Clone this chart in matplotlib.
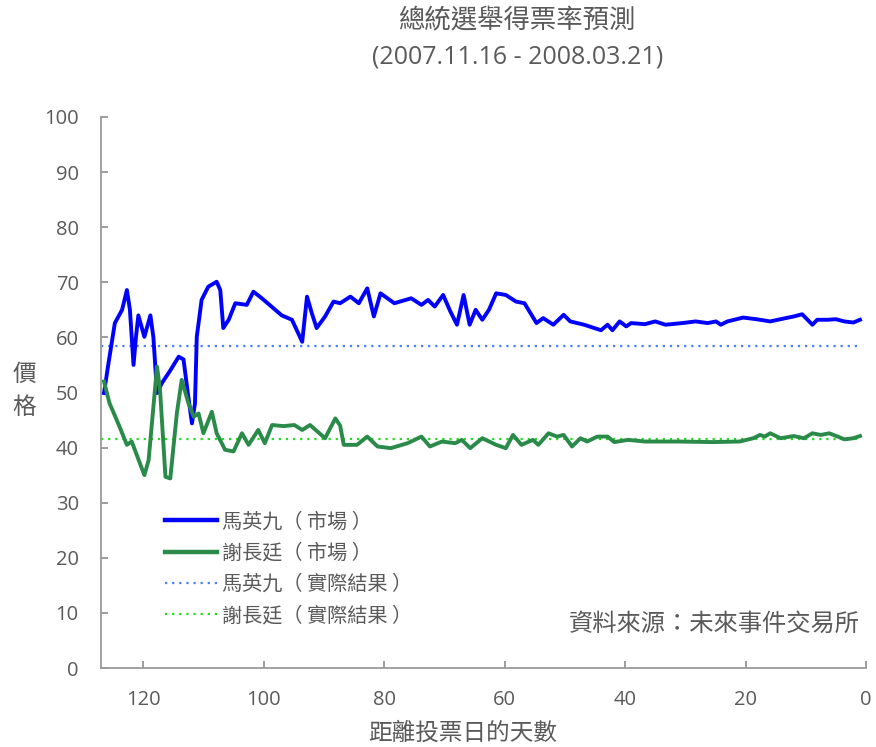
import matplotlib.pyplot as plt
from matplotlib.lines import Line2D

plt.rcParams['font.family'] = ['Open Sans', 'Noto Sans CJK TC', 'DejaVu Sans']

# days before the vote, price (%)
ma_days = [126.5, 125.8, 124.7, 123.5, 122.7, 122.2, 121.6, 121.2, 120.8, 119.8,
           118.8, 118.3, 117.7, 116.9, 115.5, 114.1, 113.3, 112.6, 111.9, 111.4,
           111.1, 110.3, 109.2, 107.8, 107.2, 106.7, 105.8, 104.7, 102.8, 101.7,
           100.3, 97.0, 95.3, 93.6, 92.8, 92.0, 91.2, 89.8, 88.4, 87.3,
           85.6, 84.2, 82.8, 81.7, 80.6, 78.3, 75.5, 73.8, 72.7, 71.6,
           70.2, 69.0, 67.9, 66.8, 65.8, 64.8, 63.7, 62.6, 61.4, 59.8,
           58.1, 56.7, 54.7, 53.6, 51.9, 50.2, 49.1, 46.8, 44.0, 42.9,
           42.1, 40.9, 39.8, 39.0, 36.7, 35.0, 33.3, 30.5, 28.3, 26.3,
           24.9, 24.1, 23.0, 20.4, 18.2, 15.9, 14.2, 12.0, 10.6, 8.9,
           8.1, 6.4, 5.0, 3.6, 2.1, 1.0]
ma_price = [49.9, 55.0, 62.6, 65.0, 68.6, 65.0, 55.0, 60.0, 64.0, 60.1,
            64.0, 60.0, 49.9, 51.7, 54.0, 56.5, 56.0, 50.0, 44.4, 48.0,
            60.1, 66.8, 69.2, 70.1, 68.6, 61.7, 63.2, 66.2, 65.9, 68.3,
            67.1, 64.0, 63.2, 59.2, 67.4, 64.4, 61.7, 63.8, 66.5, 66.2,
            67.4, 66.2, 68.9, 63.8, 68.0, 66.2, 67.1, 65.9, 66.8, 65.6,
            67.7, 64.7, 62.3, 67.7, 62.3, 65.0, 63.2, 65.0, 68.0, 67.7,
            66.5, 66.2, 62.6, 63.5, 62.3, 64.1, 62.9, 62.3, 61.3, 62.3,
            61.3, 62.9, 62.0, 62.6, 62.4, 62.9, 62.3, 62.6, 62.9, 62.6,
            62.9, 62.3, 62.9, 63.6, 63.3, 62.9, 63.3, 63.8, 64.2, 62.3,
            63.2, 63.2, 63.3, 62.9, 62.7, 63.2]

hsieh_days = [126.5, 125.6, 124.0, 122.7, 121.9, 119.8, 119.1, 117.7, 117.2, 116.3,
              115.5, 114.4, 113.6, 112.5, 111.6, 110.8, 110.0, 108.6, 107.8, 106.4,
              105.0, 103.6, 102.5, 100.9, 99.8, 98.6, 96.7, 94.9, 93.6, 92.3,
              89.8, 88.1, 87.3, 86.7, 84.5, 82.8, 81.1, 78.9, 76.1, 73.8,
              72.4, 70.4, 68.2, 67.1, 65.7, 63.7, 61.4, 59.8, 58.6, 57.2,
              55.3, 54.4, 52.7, 51.3, 50.2, 48.8, 47.4, 46.3, 44.6, 42.9,
              41.8, 39.5, 36.7, 31.1, 25.5, 21.0, 18.7, 17.6, 16.8, 15.9,
              14.2, 12.0, 10.3, 8.9, 7.5, 6.1, 4.7, 3.6, 2.1, 1.0]
hsieh_price = [52.0, 48.1, 44.0, 40.5, 41.1, 35.0, 37.7, 54.7, 50.5, 34.7,
               34.4, 46.3, 52.3, 48.1, 45.6, 46.2, 42.6, 46.5, 42.6, 39.6,
               39.3, 42.6, 40.5, 43.2, 40.8, 44.1, 43.9, 44.1, 43.2, 44.1,
               41.7, 45.3, 44.0, 40.5, 40.5, 42.0, 40.2, 39.9, 40.8, 42.0,
               40.2, 41.1, 40.8, 41.4, 39.9, 41.7, 40.5, 39.9, 42.3, 40.5,
               41.4, 40.5, 42.6, 42.0, 42.3, 40.2, 41.7, 41.1, 42.0, 42.0,
               41.0, 41.4, 41.1, 41.1, 41.0, 41.1, 41.7, 42.3, 42.0, 42.6,
               41.7, 42.1, 41.7, 42.6, 42.3, 42.6, 42.0, 41.5, 41.7, 42.1]

ma_actual = 58.45
hsieh_actual = 41.55
actual_days = [127, 1]

labels = ['馬英九（ 市場 ）', '謝長廷（ 市場 ）', '馬英九（ 實際結果 ）', '謝長廷（ 實際結果 ）']

gray = '#5a5a5a'
cjk = ['Noto Sans CJK TC', 'DejaVu Sans']
blue, green = '#0000ff', '#2a8a4a'
blue_dot, green_dot = '#4d7dff', '#22dd22'
dots = (0, (1, 2.2))

fig = plt.figure(figsize=(8.76, 7.47), dpi=100)
ax = fig.add_axes([101 / 876, 1 - 668 / 747, 765 / 876, 551 / 747])

ax.plot(actual_days, [ma_actual] * 2, color=blue_dot, lw=1.6, ls=dots)
ax.plot(actual_days, [hsieh_actual] * 2, color=green_dot, lw=1.6, ls=dots)
ax.plot(ma_days, ma_price, color=blue, lw=2.8, solid_joinstyle='round')
ax.plot(hsieh_days, hsieh_price, color=green, lw=2.8, solid_joinstyle='round')

ax.set_xlim(127, 0)
ax.set_ylim(0, 100)
ax.set_xticks([120, 100, 80, 60, 40, 20, 0])
ax.set_yticks(range(0, 101, 10))
for s in ['top', 'right']:
    ax.spines[s].set_visible(False)
for s in ['left', 'bottom']:
    ax.spines[s].set_color('#9a9a9a')
    ax.spines[s].set_linewidth(1.3)
ax.tick_params(axis='both', colors='#8c8c8c', labelcolor=gray, labelsize=14.5,
               direction='in', length=5, width=1.2)
ax.tick_params(axis='x', pad=16)
ax.tick_params(axis='y', pad=16)

fig.text(463 / 876, 1 - 733 / 747, '距離投票日的天數', fontsize=17, color=gray,
         ha='center', va='center', family=cjk)
fig.text(24 / 876, 1 - 374 / 747, '價', fontsize=17, color=gray,
         ha='center', va='center', family=cjk)
fig.text(24 / 876, 1 - 407 / 747, '格', fontsize=17, color=gray,
         ha='center', va='center', family=cjk)

fig.text(517 / 876, 1 - 21 / 747, '總統選舉得票率預測', fontsize=19, color=gray,
         ha='center', va='center', family=cjk)
fig.text(518 / 876, 1 - 57 / 747, '(2007.11.16 - 2008.03.21)', fontsize=18,
         color=gray, ha='center', va='center')

handles = [Line2D([], [], color=blue, lw=3.2),
           Line2D([], [], color=green, lw=3.2),
           Line2D([], [], color=blue_dot, lw=1.6, ls=dots),
           Line2D([], [], color=green_dot, lw=1.6, ls=dots)]
leg = ax.legend(handles, labels, loc='upper left', bbox_to_anchor=(0.060, 0.317),
                frameon=False, prop={'family': cjk, 'size': 14.5},
                handlelength=2.6, handletextpad=0.25, labelspacing=0.51)
for t in leg.get_texts():
    t.set_color(gray)

ax.text(0.992, 0.08, '資料來源：未來事件交易所', transform=ax.transAxes,
        fontsize=17.5, color=gray, ha='right', va='center', family=cjk)

fig.savefig('out.png', dpi=100)
